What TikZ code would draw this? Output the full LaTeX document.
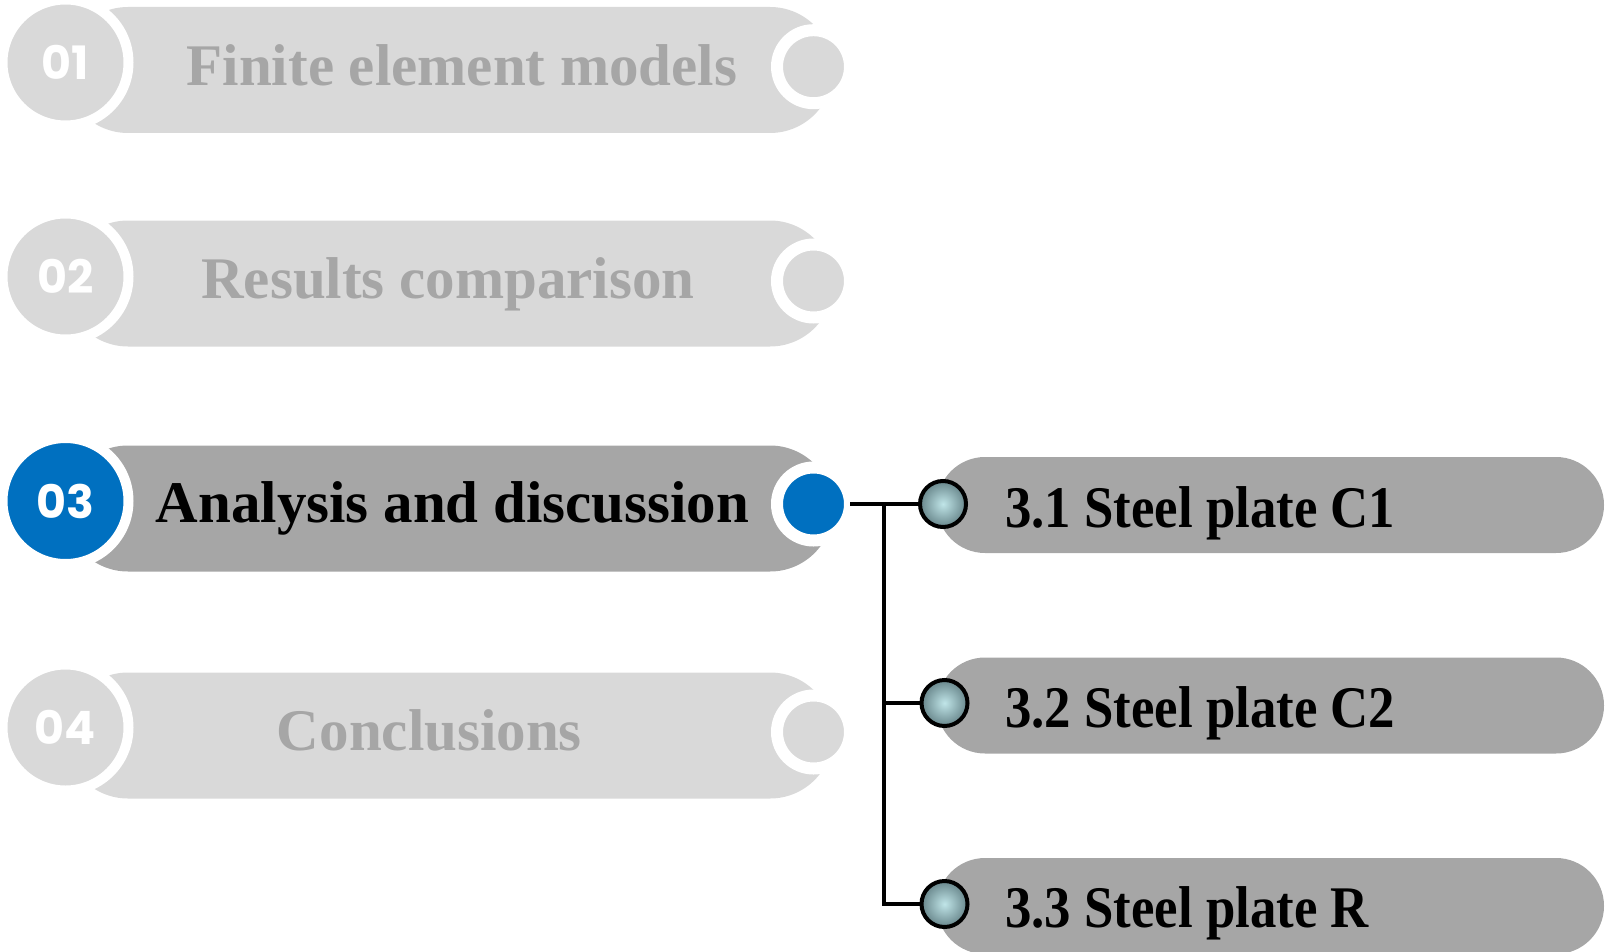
\documentclass[tikz,border=0pt]{standalone}
\usepackage{fontspec}
\setmainfont{Liberation Serif}
\newfontfamily\numfont{Poppins}
\newfontfamily\subfont[FakeStretch=0.895]{Liberation Serif}

\definecolor{lightgrey}{HTML}{D9D9D9}
\definecolor{midgrey}{HTML}{A6A6A6}
\definecolor{chapblue}{HTML}{0070C0}
\definecolor{ballin}{RGB}{192,229,232}
\definecolor{ballout}{RGB}{104,134,139}

\tikzset{
  pill/.style={rectangle, rounded corners=63pt, minimum width=768pt, minimum height=126pt, inner sep=0pt},
  numdisc/.style={circle, draw=white, line width=10pt, minimum size=126pt, inner sep=0pt, text=white,
    font=\numfont\bfseries\fontsize{46}{48}\selectfont},
  enddot/.style={circle, draw=white, line width=12pt, minimum size=73pt, inner sep=0pt, outer sep=0pt},
  title/.style={anchor=base, inner sep=0pt, font=\fontsize{59}{60}\selectfont\bfseries},
  subpill/.style={rectangle, rounded corners=48pt, minimum width=667pt, minimum height=96pt, inner sep=0pt, fill=midgrey},
  subtitle/.style={anchor=base west, inner sep=0pt, font=\subfont\fontsize{59}{60}\selectfont\bfseries},
  ball/.style={circle, draw=black, line width=4pt, minimum size=46pt, inner sep=0pt,
    inner color=ballin, outer color=ballout},
  link/.style={draw=black, line width=4.5pt}
}

\begin{document}
\begin{tikzpicture}[x=1pt, y=-1pt]
\useasboundingbox (0,0) rectangle (1605,952);

% chapter bars
\node[pill, fill=lightgrey] (pill1) at (449,70) {};
\node[pill, fill=lightgrey] (pill2) at (449,283.5) {};
\node[pill, fill=midgrey] (pill3) at (449,508.5) {};
\node[pill, fill=lightgrey] (pill4) at (449,735.5) {};

\node[numdisc, fill=lightgrey] (num1) at (65.5,62.5) {01};
\node[numdisc, fill=lightgrey] (num2) at (65.5,276.5) {02};
\node[numdisc, fill=chapblue] (num3) at (65.5,501) {03};
\node[numdisc, fill=lightgrey] (num4) at (65.5,727.5) {04};

\node[enddot, fill=lightgrey] (dot1) at (813.5,66.7) {};
\node[enddot, fill=lightgrey] (dot2) at (813.5,281) {};
\node[enddot, fill=chapblue] (dot3) at (813.5,504) {};
\node[enddot, fill=lightgrey] (dot4) at (813.5,732) {};

\node[title, text=midgrey] (title1) at (462,86) {Finite element models};
\node[title, text=midgrey] (title2) at (448,298.5) {Results comparison};
\node[title, text=black] (title3) at (452.5,522) {Analysis and discussion};
\node[title, text=midgrey] (title4) at (429.4,750.5) {Conclusions};

% sections of chapter 3
\node[subpill] (sub1) at (1270.5,505) {};
\node[subpill] (sub2) at (1270.5,705.5) {};
\node[subpill] (sub3) at (1270.5,906) {};

\node[subtitle] (subt1) at (1005,527) {3.1 Steel plate C1};
\node[subtitle] (subt2) at (1005,727.5) {3.2 Steel plate C2};
\node[subtitle] (subt3) at (1005,927.5) {3.3 Steel plate R};

\coordinate (fork) at (884,504);
\node[ball] (ball1) at (943,504) {};
\node[ball] (ball2) at (944.5,703) {};
\node[ball] (ball3) at (944.5,904) {};

\draw[link] (dot3) -- (ball1);
\draw[link] (fork) |- (ball2);
\draw[link] (fork) |- (ball3);
\end{tikzpicture}
\end{document}
